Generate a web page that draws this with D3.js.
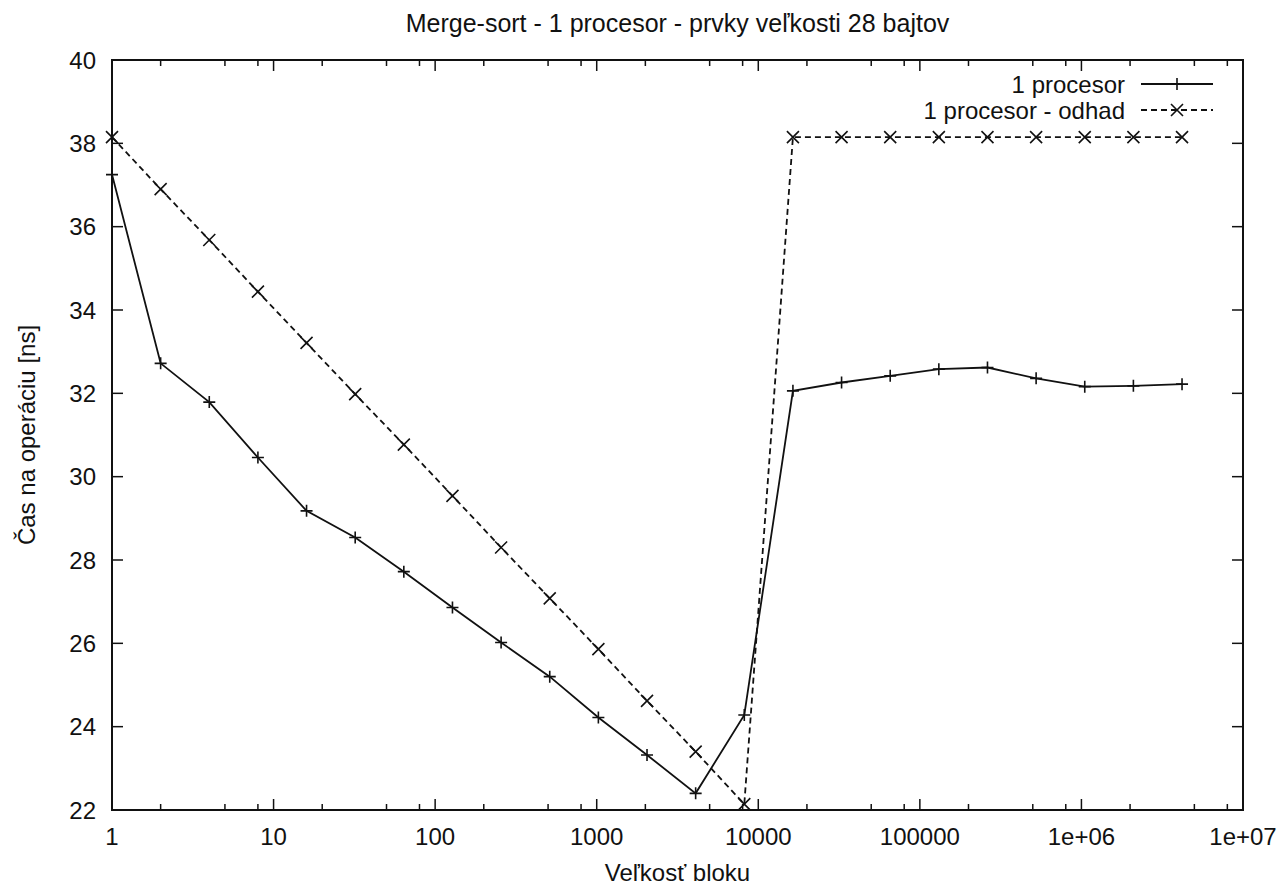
<!DOCTYPE html>
<html>
<head>
<meta charset="utf-8">
<script src="https://cdn.jsdelivr.net/npm/d3@7"></script>
<style>
  body { margin: 0; background: #fff; }
  text { font-family: "Liberation Sans", Arial, sans-serif; fill: #111; }
</style>
</head>
<body>
<script>
(function () {

  // block sizes (powers of two)
  let blockSizes = [
    1, 2, 4, 8, 16, 32, 64, 128, 256, 512, 1024, 2048, 4096, 8192,
    16384, 32768, 65536, 131072, 262144, 524288, 1048576, 2097152, 4194304
  ];

  let measured = [
    37.25, 32.72, 31.79, 30.46, 29.18, 28.54, 27.72, 26.86, 26.02, 25.20, 24.22, 23.32, 22.40, 24.28,
    32.06, 32.26, 32.42, 32.58, 32.62, 32.36, 32.16, 32.18, 32.22
  ];

  let estimate = [
    38.15, 36.90, 35.68, 34.44, 33.21, 31.98, 30.77, 29.54, 28.30, 27.08, 25.86, 24.62, 23.40, 22.14,
    38.15, 38.15, 38.15, 38.15, 38.15, 38.15, 38.15, 38.15, 38.15
  ];

  let xTicks      = [1, 10, 100, 1000, 10000, 100000, 1e6, 1e7];
  let xTickLabels = ['1', '10', '100', '1000', '10000', '100000', '1e+06', '1e+07'];
  let xMinorMult  = [2, 5, 8];
  let yTicks      = [22, 24, 26, 28, 30, 32, 34, 36, 38, 40];

  let seriesNames = ['1 procesor', '1 procesor - odhad'];

  function go() {
    let width = 1282, height = 886;
    let margin = { top: 60, right: 39, bottom: 76, left: 112 };
    let plotW = width - margin.left - margin.right;
    let plotH = height - margin.top - margin.bottom;
    let fontSize = 24;

    let svg = d3.select('body').append('svg')
        .attr('width', width)
        .attr('height', height);

    let x = d3.scaleLog().domain([1, 1e7]).range([0, plotW]);
    let y = d3.scaleLinear().domain([22, 40]).range([plotH, 0]);

    let g = svg.append('g')
        .attr('transform', 'translate(' + margin.left + ',' + margin.top + ')');

    // minor tick positions
    let minor = [];
    xTicks.slice(0, -1).forEach(function (t) {
      xMinorMult.forEach(function (m) { minor.push(t * m); });
    });

    let majorLen = 11, minorLen = 6;

    let axisColor = '#111';

    // x ticks (bottom & top, inward)
    g.selectAll('line.xmaj').data(xTicks).enter().append('line')
      .attr('class', 'xmaj')
      .attr('x1', d => x(d)).attr('x2', d => x(d))
      .attr('y1', plotH).attr('y2', plotH - majorLen)
      .attr('stroke', axisColor).attr('stroke-width', 1.5);
    g.selectAll('line.xmajt').data(xTicks).enter().append('line')
      .attr('class', 'xmajt')
      .attr('x1', d => x(d)).attr('x2', d => x(d))
      .attr('y1', 0).attr('y2', majorLen)
      .attr('stroke', axisColor).attr('stroke-width', 1.5);
    g.selectAll('line.xmin').data(minor).enter().append('line')
      .attr('class', 'xmin')
      .attr('x1', d => x(d)).attr('x2', d => x(d))
      .attr('y1', plotH).attr('y2', plotH - minorLen)
      .attr('stroke', axisColor).attr('stroke-width', 1.5);
    g.selectAll('line.xmint').data(minor).enter().append('line')
      .attr('class', 'xmint')
      .attr('x1', d => x(d)).attr('x2', d => x(d))
      .attr('y1', 0).attr('y2', minorLen)
      .attr('stroke', axisColor).attr('stroke-width', 1.5);

    // y ticks (left & right)
    g.selectAll('line.yl').data(yTicks).enter().append('line')
      .attr('class', 'yl')
      .attr('x1', 0).attr('x2', majorLen)
      .attr('y1', d => y(d)).attr('y2', d => y(d))
      .attr('stroke', axisColor).attr('stroke-width', 1.5);
    g.selectAll('line.yr').data(yTicks).enter().append('line')
      .attr('class', 'yr')
      .attr('x1', plotW).attr('x2', plotW - majorLen)
      .attr('y1', d => y(d)).attr('y2', d => y(d))
      .attr('stroke', axisColor).attr('stroke-width', 1.5);

    // tick labels
    g.selectAll('text.xl').data(xTicks).enter().append('text')
      .attr('class', 'xl')
      .attr('x', d => x(d))
      .attr('y', plotH + 35)
      .attr('text-anchor', 'middle')
      .style('font-size', fontSize + 'px')
      .text((d, i) => xTickLabels[i]);

    g.selectAll('text.yl').data(yTicks).enter().append('text')
      .attr('class', 'yl')
      .attr('x', -16)
      .attr('y', d => y(d))
      .attr('dy', '0.36em')
      .attr('text-anchor', 'end')
      .style('font-size', fontSize + 'px')
      .text(d => d);

    // border
    g.append('rect')
      .attr('x', 0).attr('y', 0)
      .attr('width', plotW).attr('height', plotH)
      .attr('fill', 'none')
      .attr('stroke', axisColor)
      .attr('stroke-width', 2);

    // titles
    svg.append('text')
      .attr('x', margin.left + plotW / 2)
      .attr('y', 32)
      .attr('text-anchor', 'middle')
      .style('font-size', '25px')
      .text('Merge-sort - 1 procesor - prvky veľkosti 28 bajtov');

    svg.append('text')
      .attr('x', margin.left + plotW / 2)
      .attr('y', 881)
      .attr('text-anchor', 'middle')
      .style('font-size', fontSize + 'px')
      .text('Veľkosť bloku');

    svg.append('text')
      .attr('transform', 'translate(35,' + (margin.top + plotH / 2) + ') rotate(-90)')
      .attr('text-anchor', 'middle')
      .style('font-size', fontSize + 'px')
      .text('Čas na operáciu [ns]');

    // markers
    let plus = 'M-6,0H6M0,-6V6';
    let cross = 'M-6,-6L6,6M-6,6L6,-6';

    let line = d3.line()
      .x(d => x(d[0]))
      .y(d => y(d[1]));

    let series = [
      { name: seriesNames[0], values: measured, dash: null, marker: plus },
      { name: seriesNames[1], values: estimate, dash: '6,4', marker: cross }
    ];

    series.forEach(function (s, si) {
      let pts = blockSizes.map((b, i) => [b, s.values[i]]);

      g.append('path')
        .datum(pts)
        .attr('d', line)
        .attr('fill', 'none')
        .attr('stroke', '#111')
        .attr('stroke-width', 1.8)
        .attr('stroke-dasharray', s.dash);

      g.selectAll('path.m' + si).data(pts).enter().append('path')
        .attr('class', 'm' + si)
        .attr('transform', d => 'translate(' + x(d[0]) + ',' + y(d[1]) + ')')
        .attr('d', s.marker)
        .attr('stroke', '#111')
        .attr('stroke-width', 1.6)
        .attr('fill', 'none');

      // legend
      let ly = 24 + si * 26;
      let lg = g.append('g').attr('transform', 'translate(0,' + ly + ')');
      lg.append('text')
        .attr('x', 1013)
        .attr('dy', '0.36em')
        .attr('text-anchor', 'end')
        .style('font-size', fontSize + 'px')
        .text(s.name);
      lg.append('line')
        .attr('x1', 1029).attr('x2', 1101)
        .attr('y1', 0).attr('y2', 0)
        .attr('stroke', '#111')
        .attr('stroke-width', 1.8)
        .attr('stroke-dasharray', s.dash);
      lg.append('path')
        .attr('transform', 'translate(1065,0)')
        .attr('d', s.marker)
        .attr('stroke', '#111')
        .attr('stroke-width', 1.6)
        .attr('fill', 'none');
    });
  }

  document.addEventListener('DOMContentLoaded', go);

})();
</script>
</body>
</html>
